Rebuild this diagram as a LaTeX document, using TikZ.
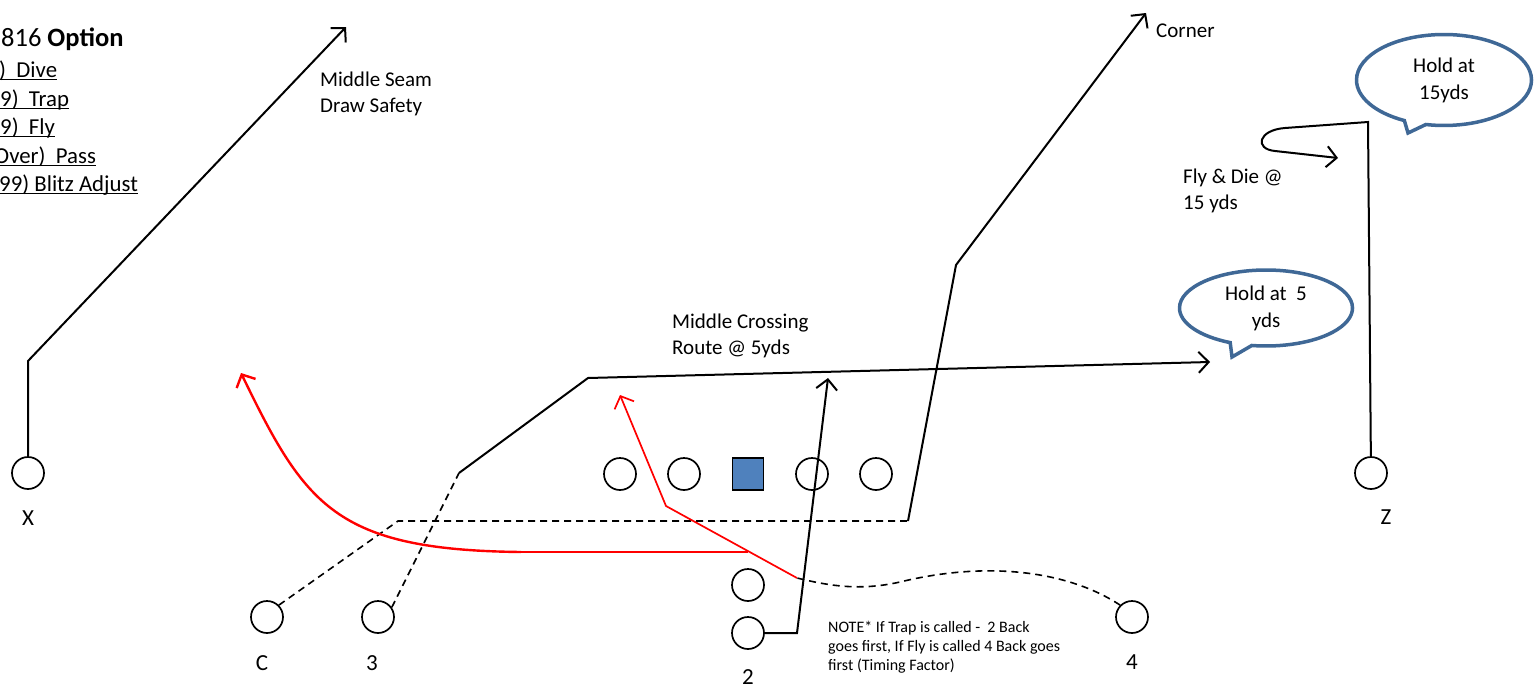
\documentclass[tikz,border=0pt]{standalone}
\usepackage{fontspec}
\setmainfont{Carlito}
\usetikzlibrary{arrows.meta,shapes.callouts}
\definecolor{bubbleblue}{HTML}{3F6896}
\definecolor{snapblue}{HTML}{4F81BD}
\newcommand\undl[1]{\setbox0=\hbox{#1}\rlap{\copy0}\rule[-3.2pt]{\wd0}{1.4pt}}
\tikzset{
  player/.style={circle,draw,line width=1.7pt,minimum size=32pt,inner sep=0pt},
  snapper/.style={rectangle,draw,fill=snapblue,line width=1.7pt,minimum width=31pt,minimum height=32pt,inner sep=0pt},
  pname/.style={anchor=base,inner sep=0pt,font=\fontsize{23}{27}\selectfont},
  rtext/.style={anchor=north west,inner sep=0pt,align=left,font=\fontsize{21}{25.5}\selectfont},
  listline/.style={anchor=base west,inner sep=0pt,font=\fontsize{22.8}{28}\selectfont},
  route/.style={line width=2pt},
  motion/.style={line width=1.6pt,dash pattern=on 7pt off 5pt},
  redrun/.style={draw=red,line width=1.7pt},
  barb/.style={-{Straight Barb[length=10pt,width=21pt]}},
  bubble/.style={ellipse callout,draw=bubbleblue,line width=3.5pt,fill=white,align=center,inner sep=0pt,font=\fontsize{21}{27}\selectfont}
}
\begin{document}
\begin{tikzpicture}[x=1pt,y=-1pt]
\useasboundingbox (0,0) rectangle (1536,688);
% play call
\node[anchor=base west,inner sep=0pt,font=\fontsize{26.5}{30}\selectfont] (title) at (1,46) {816 \textbf{Option}};
\node[listline] (l1) at (-1,77) {\undl{)\ \ Dive}};
\node[listline] (l2) at (0,106) {\undl{9)\ \ Trap}};
\node[listline] (l3) at (0,134) {\undl{9)\ \ Fly}};
\node[listline] (l4) at (-6,163) {\undl{Over)\ \ Pass}};
\node[listline] (l5) at (-1,191) {\undl{99) Blitz Adjust}};
% formation
\node[player] (X) at (28,473) {};
\node[player] (Z) at (1371,473) {};
\node[player] (LT) at (620,474) {};
\node[player] (LG) at (684,474) {};
\node[snapper] (Cn) at (748,474) {};
\node[player] (RG) at (812,474) {};
\node[player] (RT) at (876,474) {};
\node[player] (QB) at (748,585) {};
\node[player] (B2) at (748,633) {};
\node[player] (BC) at (267,617) {};
\node[player] (B3) at (378,617) {};
\node[player] (B4) at (1132,617) {};
\node[pname] (nX) at (28,525) {X};
\node[pname] (nZ) at (1386,524) {Z};
\node[pname] (nC) at (262,670) {C};
\node[pname] (n3) at (372,670) {3};
\node[pname] (n2) at (748,684) {2};
\node[pname] (n4) at (1132,669) {4};
% route points
\coordinate (xcut) at (28,361);
\coordinate (xend) at (346,27);
\coordinate (cdip) at (398,521);
\coordinate (cflat) at (908,521);
\coordinate (cbreak) at (956,265);
\coordinate (cend) at (1146,13);
\coordinate (tdash) at (459,473);
\coordinate (tbreak) at (588,378);
\coordinate (tend) at (1210,362);
\coordinate (tstep) at (797,633);
\coordinate (tsend) at (828,378);
\coordinate (fmesh) at (797,578);
\coordinate (fcut) at (666,506);
\coordinate (fend) at (620,395);
\coordinate (hoff) at (748,552);
\coordinate (hturn) at (521,552);
\coordinate (hend) at (241,373);
\coordinate (ztop) at (1368,122);
\coordinate (zloop) at (1285,128);
\coordinate (zback) at (1275,151);
\coordinate (zend) at (1338,158);
% routes
\draw[route,barb] (X) -- (xcut) -- (xend);
\draw[motion] (BC.45) -- (cdip) -- (cflat);
\draw[route,barb] (cflat) -- (cbreak) -- (cend);
\draw[motion] (B3.35) -- (tdash);
\draw[route,barb] (tdash) -- (tbreak) -- (tend);
\draw[route,barb] (B2.east) -- (tstep) -- (tsend);
\draw[motion] (B4.135) .. controls (1070,572) and (990,560) .. (900,582) .. controls (860,591) and (830,586) .. (fmesh);
\draw[redrun,barb] (fmesh) -- (fcut) -- (fend);
\draw[redrun] (hoff) -- (hturn);
\draw[redrun,line width=2.4pt,barb] (hturn) .. controls (335,550) and (305,505) .. (hend);
\draw[route,barb] (Z) -- (ztop) -- (zloop) .. controls (1258,130) and (1254,149) .. (zback) -- (zend);
% labels
\node[rtext] (seam) at (320,72) {Middle Seam\\Draw Safety};
\node[rtext] (corner) at (1156,24) {Corner};
\node[rtext] (cross) at (672,314) {Middle Crossing\\Route @ 5yds};
\node[rtext] (flydie) at (1183,169) {Fly \& Die @\\15 yds};
\node[rtext,font=\fontsize{16}{19}\selectfont] (note) at (828,621) {NOTE* If Trap is called -\ \ 2 Back\\goes first, If Fly is called 4 Back goes\\first (Timing Factor)};
\node[bubble,minimum width=175pt,minimum height=91pt,callout absolute pointer={(1408,133)}] (hold15) at (1444,80) {Hold at\\15yds};
\node[bubble,minimum width=173pt,minimum height=76pt,callout absolute pointer={(1232,357)}] (hold5) at (1266,308) {Hold at\ \ 5\\yds};
\end{tikzpicture}
\end{document}
